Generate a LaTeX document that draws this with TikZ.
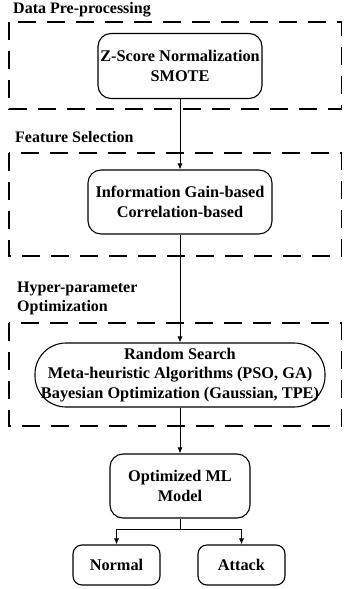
\documentclass[tikz,border=0pt]{standalone}
\usepackage{fontspec}
\setmainfont{Liberation Serif}
\usetikzlibrary{arrows.meta}

\tikzset{
    stage/.style={draw, line width=1.1pt, rounded corners=13pt, align=center,
        font=\fontsize{16.3}{19.8}\selectfont\bfseries, inner sep=1pt},
    group/.style={line width=1.5pt, dash pattern=on 18pt off 11pt},
    title/.style={anchor=west, font=\fontsize{16}{19}\selectfont\bfseries, align=left, inner sep=0pt},
    arr/.style={-{Latex[length=6pt,width=5pt]}, line width=0.8pt}
}

\begin{document}
\begin{tikzpicture}[x=1pt, y=-1pt]

        \useasboundingbox (0,0) rectangle (343,589);

        \draw[group] (9,22) rectangle (341.5,109);
        \node[title] (pretitle) at (13,10) {Data Pre-processing};

        \draw[group] (9,153) rectangle (341.5,256);
        \node[title] (feattitle) at (15,137) {Feature Selection};

        \draw[group] (9,323) rectangle (341.5,426);
        \node[title] (hypertitle) at (17,298) {Hyper-parameter\\Optimization};

        % #######################################

        \node[stage, minimum width=164pt, minimum height=65pt] (pre) at (180,66)
            {Z-Score Normalization\\SMOTE};

        \node[stage, minimum width=184pt, minimum height=64pt] (feat) at (180,202)
            {Information Gain-based\\Correlation-based};

        \node[stage, minimum width=290pt, minimum height=64pt, rounded corners=31pt] (hyper) at (180,375)
            {Random Search\\Meta-heuristic Algorithms (PSO, GA)\\Bayesian Optimization (Gaussian, TPE)};

        \node[stage, minimum width=140pt, minimum height=64pt] (model) at (180,486)
            {Optimized ML\\Model};

        \node[stage, minimum width=87pt, minimum height=40pt, rounded corners=9pt] (normal) at (116.5,565) {Normal};
        \node[stage, minimum width=87pt, minimum height=40pt, rounded corners=9pt] (attack) at (241.5,565) {Attack};

        % #######################################

        \draw[arr] (pre) -- (feat);
        \draw[arr] (feat) -- (hyper);
        \draw[arr] (hyper) -- (model);

        \draw[arr] (model.south) -- ++(0,11) -| (normal.north);
        \draw[arr] (model.south) -- ++(0,11) -| (attack.north);

\end{tikzpicture}
\end{document}
